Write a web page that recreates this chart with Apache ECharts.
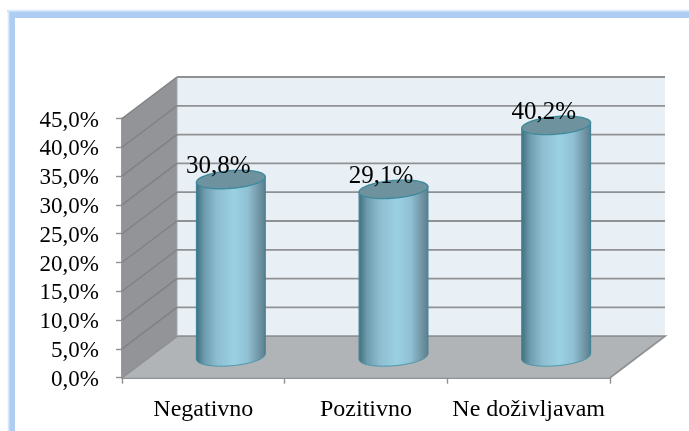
<!DOCTYPE html>
<html><head><meta charset="utf-8">
<style>html,body{margin:0;padding:0;background:#fff}#c{width:689px;height:431px}</style>
<script src="https://cdn.jsdelivr.net/npm/echarts@6/dist/echarts.min.js"></script>
</head><body><div id="c"></div>
<script>
const categories = ['Negativno', 'Pozitivno', 'Ne doživljavam'];
const values = [30.8, 29.1, 40.2];
const labels = ['30,8%', '29,1%', '40,2%'];
const yTicks = [0, 5, 10, 15, 20, 25, 30, 35, 40, 45];

const DX = 55, DY = -41.5;           // depth of the 3D box
const chart = echarts.init(document.getElementById('c'), null, {renderer:'canvas'});
const font = '"Liberation Serif","Times New Roman",serif';

function wallsRender(params, api) {
  const p0 = api.coord([0, 0]);
  const p1 = api.coord([2, 45]);
  const cs = params.coordSys;
  const l = cs.x, r = cs.x + cs.width, b = p0[1], t = p1[1];
  const gridStroke = {stroke:'#8f9193', lineWidth:1.8};
  const children = [
    {type:'rect', shape:{x:l+DX, y:t+DY, width:r-l, height:b-t}, style:{fill:'#e8f0f6'}},
    {type:'polygon', shape:{points:[[l,b],[l,t],[l+DX,t+DY],[l+DX,b+DY]]}, style:{fill:'#929497'}},
    {type:'polygon', shape:{points:[[l,b],[r,b],[r+DX,b+DY],[l+DX,b+DY]]}, style:{fill:'#b1b4b7'}},
    {type:'polyline', shape:{points:[[l,b],[l+DX,b+DY],[r+DX,b+DY],[r,b]]}, style:{stroke:'#8f9193', lineWidth:1.8, fill:null}},
    {type:'line', shape:{x1:l+DX, y1:t+DY, x2:l+DX, y2:b+DY}, style:{stroke:'#a5a7a9', lineWidth:1}}
  ];
  yTicks.forEach(v => {
    const y = api.coord([0, v])[1];
    if (v > 0) {
      children.push({type:'line', shape:{x1:l, y1:y, x2:l+DX, y2:y+DY}, style:{stroke:'#7f8184', lineWidth:1.4}});
      children.push({type:'line', shape:{x1:l+DX, y1:y+DY, x2:r+DX, y2:y+DY}, style:gridStroke});
    }
  });
  return {type:'group', children};
}

function cylinderRender(params, api) {
  const idx = api.value(0), val = api.value(1);
  const base = api.coord([idx, 0]), top = api.coord([idx, val]);
  const cx = base[0] + DX/2, by = base[1] + DY/2, ty = top[1] + DY/2;
  const rx = 34.5, ry = 8.8, tilt = 0.085;
  const pt = (y, a) => {
    const ex = rx*Math.cos(a), ey = ry*Math.sin(a);
    return [cx + ex*Math.cos(tilt) + ey*Math.sin(tilt), y + ey*Math.cos(tilt) - ex*Math.sin(tilt)];
  };
  const bodyPts = [];
  for (let i = 0; i <= 40; i++) bodyPts.push(pt(by, Math.PI*i/40));       // lower arc, right to left
  const ellipse = [];
  for (let i = 0; i < 80; i++) ellipse.push(pt(ty, 2*Math.PI*i/80));
  const grad = new echarts.graphic.LinearGradient(0,0,1,0,[
    {offset:0,color:'#44707f'},{offset:0.12,color:'#6d9dae'},{offset:0.3,color:'#8dbdd0'},
    {offset:0.55,color:'#9bd0e3'},{offset:0.75,color:'#8fc0d3'},{offset:0.92,color:'#6f93a2'},{offset:1,color:'#5a7f8d'}]);
  return {type:'group', children:[
    {type:'polygon', shape:{points:bodyPts.concat([pt(ty,Math.PI), pt(ty,0)])}, style:{fill:grad}},
    {type:'polyline', shape:{points:[pt(ty,Math.PI), pt(by,Math.PI)]}, style:{stroke:'#3f8597', lineWidth:1.2, fill:null}},
    {type:'polyline', shape:{points:[pt(ty,0), pt(by,0)]}, style:{stroke:'#3f8597', lineWidth:1.2, fill:null}},
    {type:'polyline', shape:{points:bodyPts}, style:{stroke:'#4b97aa', lineWidth:1, fill:null}},
    {type:'polygon', shape:{points:ellipse}, style:{fill:'#6f929f', stroke:'#3f8a9c', lineWidth:1.4}},
    {type:'text', x:cx-12.5, y:ty-0.5, style:{text:labels[idx], font:'25px '+font, fill:'#000', align:'center', verticalAlign:'bottom'}, z2:10}
  ]};
}

chart.setOption({
  animation:false,
  backgroundColor:'#fff',
  graphic:[
    {type:'rect', z:-1, shape:{x:7,y:9,width:682,height:9}, style:{fill:new echarts.graphic.LinearGradient(0,0,0,1,[{offset:0,color:'#ffffff'},{offset:0.4,color:'#aecdf3'},{offset:1,color:'#aecdf3'}])}},
    {type:'rect', z:-1, shape:{x:7,y:12,width:8,height:419}, style:{fill:new echarts.graphic.LinearGradient(0,0,1,0,[{offset:0,color:'#ffffff'},{offset:0.4,color:'#aecdf3'},{offset:1,color:'#aecdf3'}])}}
  ],
  grid:{left:122, top:118.5, width:488, height:259.2, containLabel:false},
  xAxis:{type:'category', data:categories, boundaryGap:true,
    axisLine:{lineStyle:{color:'#8f9193',width:1.8}},
    axisTick:{show:true,alignWithLabel:false,interval:0,length:6,lineStyle:{color:'#8f9193',width:1.4}},
    axisLabel:{color:'#000',fontFamily:font,fontSize:24,margin:20,interval:0,hideOverlap:false}},
  yAxis:{type:'value', min:0, max:45, interval:5,
    axisLine:{show:true,lineStyle:{color:'#8f9193',width:1.8}},
    axisTick:{show:true,length:6,lineStyle:{color:'#8f9193',width:1.4}},
    splitLine:{show:false},
    axisLabel:{color:'#000',fontFamily:font,fontSize:23,margin:23,hideOverlap:false,verticalAlign:'top',lineHeight:4,
      formatter:v=>v.toFixed(1).replace('.',',')+'%'}},
  series:[
    {type:'custom', silent:true, z:1, data:[[0,0]], renderItem:wallsRender, clip:false},
    {type:'custom', silent:true, z:3, data:values.map((v,i)=>[i,v]), encode:{x:0,y:1}, renderItem:cylinderRender, clip:false}
  ]
});
</script></body></html>
